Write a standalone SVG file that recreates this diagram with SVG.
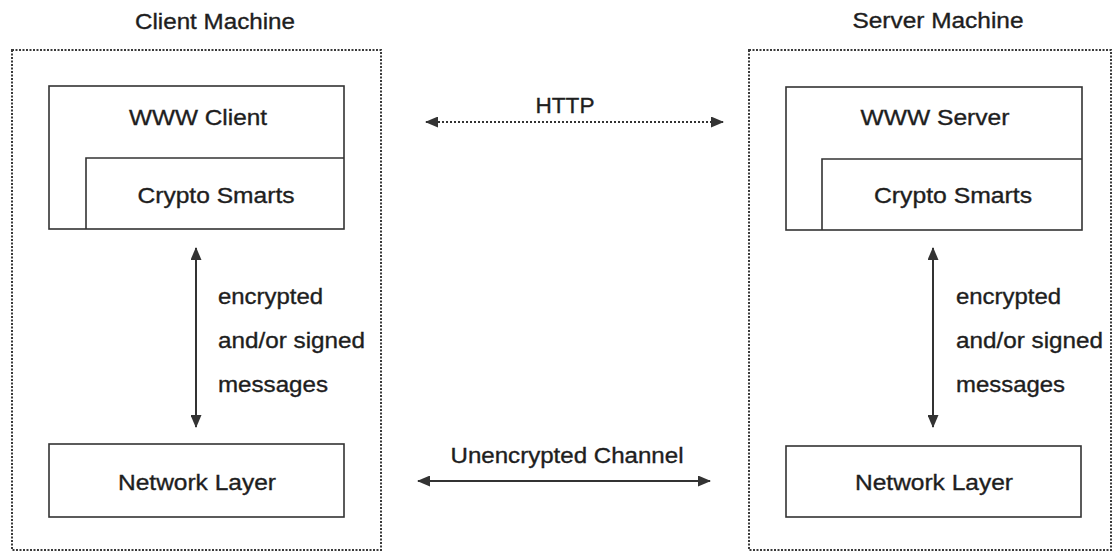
<svg xmlns="http://www.w3.org/2000/svg" width="1114" height="553" viewBox="0 0 1114 553">
<style>
text{font-family:"Liberation Sans",Arial,sans-serif;font-size:22px;fill:#1e1e1e;stroke:#1e1e1e;stroke-width:0.35}
.c{text-anchor:middle}
.box{fill:none;stroke:#333;stroke-width:1.6}
.outer{fill:none;stroke:#3a3a3a;stroke-width:2;stroke-dasharray:2 1.5}
.ln{stroke:#333;stroke-width:2;fill:none}
.dot{stroke:#333;stroke-width:2;fill:none;stroke-dasharray:2 2}
</style>
<defs>
<marker id="ah" viewBox="0 0 13 11" refX="12" refY="5.5" markerWidth="13" markerHeight="11" markerUnits="userSpaceOnUse" orient="auto-start-reverse">
<path d="M0,0 L13,5.5 L0,11 Z" fill="#333"/>
</marker>
</defs>
<rect width="1114" height="553" fill="#fff"/>
<g id="client">
<text class="c" x="215" y="29" textLength="160" lengthAdjust="spacingAndGlyphs">Client Machine</text>
<rect class="outer" x="12" y="50" width="369" height="500"/>
</g>
<g id="www-client">
<rect class="box" x="49" y="86" width="295" height="143"/>
<text class="c" x="198" y="125" textLength="138" lengthAdjust="spacingAndGlyphs">WWW Client</text>
</g>
<g id="crypto-client">
<path class="box" d="M86,229 V158 H344"/>
<text class="c" x="216" y="203" textLength="157" lengthAdjust="spacingAndGlyphs">Crypto Smarts</text>
</g>
<g id="net-client">
<rect class="box" x="49" y="444" width="295" height="73"/>
<text class="c" x="197" y="490" textLength="158" lengthAdjust="spacingAndGlyphs">Network Layer</text>
</g>
<g id="server">
<text class="c" x="938" y="28" textLength="171" lengthAdjust="spacingAndGlyphs">Server Machine</text>
<rect class="outer" x="749" y="50" width="362" height="500"/>
</g>
<g id="www-server">
<rect class="box" x="786" y="87" width="296" height="143"/>
<text class="c" x="935" y="125" textLength="149" lengthAdjust="spacingAndGlyphs">WWW Server</text>
</g>
<g id="crypto-server">
<path class="box" d="M822,230 V159 H1082"/>
<text class="c" x="953" y="203" textLength="158" lengthAdjust="spacingAndGlyphs">Crypto Smarts</text>
</g>
<g id="net-server">
<rect class="box" x="786" y="446" width="295" height="71"/>
<text class="c" x="934" y="490" textLength="158" lengthAdjust="spacingAndGlyphs">Network Layer</text>
</g>
<g id="connectors">
<line class="dot" x1="426" y1="122" x2="723" y2="122" marker-start="url(#ah)" marker-end="url(#ah)"/>
<text class="c" x="565" y="113" textLength="59" lengthAdjust="spacingAndGlyphs">HTTP</text>
<line class="ln" x1="418" y1="481" x2="710" y2="481" marker-start="url(#ah)" marker-end="url(#ah)"/>
<text class="c" x="567" y="463" textLength="233" lengthAdjust="spacingAndGlyphs">Unencrypted Channel</text>
<line class="ln" x1="196" y1="248" x2="196" y2="427" marker-start="url(#ah)" marker-end="url(#ah)"/>
<text x="218" y="304" textLength="105" lengthAdjust="spacingAndGlyphs">encrypted</text>
<text x="218" y="348" textLength="147" lengthAdjust="spacingAndGlyphs">and/or signed</text>
<text x="218" y="392" textLength="110" lengthAdjust="spacingAndGlyphs">messages</text>
<line class="ln" x1="933" y1="248" x2="933" y2="427" marker-start="url(#ah)" marker-end="url(#ah)"/>
<text x="956" y="304" textLength="105" lengthAdjust="spacingAndGlyphs">encrypted</text>
<text x="956" y="348" textLength="147" lengthAdjust="spacingAndGlyphs">and/or signed</text>
<text x="956" y="392" textLength="109" lengthAdjust="spacingAndGlyphs">messages</text>
</g>
</svg>
